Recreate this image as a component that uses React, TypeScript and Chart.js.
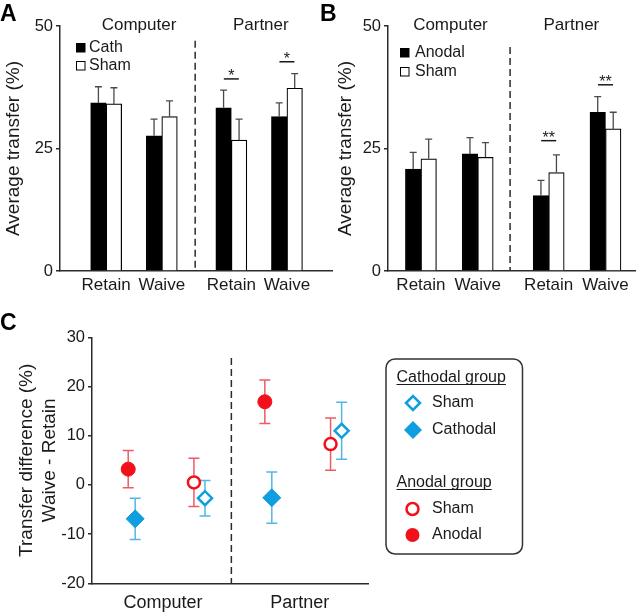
import React, { useEffect, useRef } from 'react';
import { Chart, registerables } from 'chart.js';

Chart.register(...registerables);

const FONT = "'Liberation Sans', Arial, Helvetica, sans-serif";
const TEXT = '#1a1a1a';
const AXIS = '#2b2b2b';

// ---------- Panels A & B (bar charts) ----------
const barCategories = ['Retain', 'Waive', 'Retain', 'Waive'];
const barPositions = [0, 1, 2.25, 3.25];
const conditionLabels = ['Computer', 'Partner'];

const cathMeans = [34.3, 27.6, 33.3, 31.5];
const cathErr = [3.3, 3.4, 3.6, 2.8];
const cathShamMeans = [34.1, 31.5, 26.7, 37.3];
const cathShamErr = [3.3, 3.2, 4.3, 3.0];

const anodMeans = [20.8, 23.9, 15.4, 32.4];
const anodErr = [3.4, 3.3, 3.1, 3.2];
const anodShamMeans = [22.9, 23.2, 20.1, 29.0];
const anodShamErr = [4.0, 3.0, 3.6, 3.4];

const sigA = [
  { at: 2.25, y: 39.2, mark: '*' },
  { at: 3.25, y: 42.7, mark: '*' },
];
const sigB = [
  { at: 2.25, y: 26.6, mark: '**' },
  { at: 3.25, y: 38.0, mark: '**' },
];

// ---------- Panel C (difference plot) ----------
const diffCategories = ['Computer', 'Partner'];
const diffPositions = [1, 2];
const anodalDiff = [3.2, 16.9];
const anodalDiffErr = [3.8, 4.4];
const anodalShamDiff = [0.5, 8.3];
const anodalShamDiffErr = [4.9, 5.3];
const cathodalDiff = [-6.9, -2.6];
const cathodalDiffErr = [4.2, 5.2];
const cathodalShamDiff = [-2.7, 11.0];
const cathodalShamDiffErr = [3.6, 5.8];

const RED = '#f2111b';
const RED_ERR = '#ec5c64';
const BLUE = '#0f9ee0';
const BLUE_ERR = '#52b7e6';

type Series = { label: string; means: number[]; err: number[]; fill: string };

interface BarPanel {
  letter: string;
  series: Series[];
  sig: { at: number; y: number; mark: string }[];
  xMin: number;
  xMax: number;
  divider: number;
  dividerTop: number;
  headerAt: number[];
  yAxisWidth: number;
  padRight: number;
  titlePad: number;
  legend: { dx: number; dy: number; gap: number; textDx: number };
}

function barConfig(p: BarPanel): any {
  const plugin = {
    id: 'decor' + p.letter,
    afterDatasetsDraw(chart: any) {
      const { ctx, chartArea: ca } = chart;
      const x = chart.scales.x;
      const y = chart.scales.y;
      ctx.save();
      // error bars (upper only)
      ctx.strokeStyle = '#4a4a4a';
      ctx.lineWidth = 1.3;
      p.series.forEach((s, di) => {
        const meta = chart.getDatasetMeta(di);
        meta.data.forEach((el: any, i: number) => {
          const bx = el.x;
          const y0 = y.getPixelForValue(s.means[i]);
          const y1 = y.getPixelForValue(s.means[i] + s.err[i]);
          ctx.beginPath();
          ctx.moveTo(bx, y0);
          ctx.lineTo(bx, y1);
          ctx.moveTo(bx - 3.5, y1);
          ctx.lineTo(bx + 3.5, y1);
          ctx.stroke();
        });
      });
      // divider
      ctx.strokeStyle = AXIS;
      ctx.lineWidth = 1.5;
      ctx.setLineDash([7, 4]);
      const dvx = x.getPixelForValue(p.divider);
      ctx.beginPath();
      ctx.moveTo(dvx, y.getPixelForValue(p.dividerTop));
      ctx.lineTo(dvx, y.getPixelForValue(0));
      ctx.stroke();
      ctx.setLineDash([]);
      // significance markers
      ctx.fillStyle = TEXT;
      ctx.strokeStyle = TEXT;
      ctx.lineWidth = 1.5;
      ctx.font = `16px ${FONT}`;
      ctx.textAlign = 'center';
      ctx.textBaseline = 'alphabetic';
      p.sig.forEach((s) => {
        const sx = x.getPixelForValue(s.at);
        const sy = y.getPixelForValue(s.y);
        ctx.beginPath();
        ctx.moveTo(sx - 7.5, sy);
        ctx.lineTo(sx + 7.5, sy);
        ctx.stroke();
        ctx.fillText(s.mark, sx, sy + 2);
      });
      // condition headers
      ctx.font = `17px ${FONT}`;
      ctx.textBaseline = 'middle';
      conditionLabels.forEach((c, i) => {
        ctx.fillText(c, x.getPixelForValue(p.headerAt[i]), ca.top - 1);
      });
      // legend
      ctx.textAlign = 'left';
      ctx.font = `16px ${FONT}`;
      p.series.forEach((s, i) => {
        const lx = ca.left + p.legend.dx;
        const ly = ca.top + p.legend.dy + i * p.legend.gap;
        ctx.fillStyle = s.fill;
        ctx.fillRect(lx, ly, 9, 9);
        ctx.strokeStyle = '#000';
        ctx.lineWidth = 1;
        ctx.strokeRect(lx + 0.5, ly + 0.5, 8.5, 8.5);
        ctx.fillStyle = TEXT;
        ctx.fillText(s.label, lx + p.legend.textDx, ly + 5);
      });
      // panel letter
      ctx.font = `bold 23px ${FONT}`;
      ctx.fillStyle = '#000';
      ctx.textBaseline = 'alphabetic';
      ctx.fillText(p.letter, 0, 21);
      ctx.restore();
    },
  };

  return {
    type: 'bar',
    data: {
      datasets: p.series.map((s) => ({
        label: s.label,
        data: barPositions.map((xv, i) => ({ x: xv, y: s.means[i] })),
        backgroundColor: s.fill,
        borderColor: '#000',
        borderWidth: 1.2,
        barThickness: 15.5,
      })),
    },
    options: {
      responsive: false,
      animation: false,
      layout: { padding: { left: 0, right: p.padRight, top: 26, bottom: 0 } },
      plugins: { legend: { display: false }, tooltip: { enabled: false } },
      scales: {
        x: {
          type: 'linear',
          min: p.xMin,
          max: p.xMax,
          offset: false,
          afterFit: (s: any) => {
            s.height = 29;
          },
          afterBuildTicks: (s: any) => {
            s.ticks = barPositions.map((v) => ({ value: v }));
          },
          grid: { display: true, drawOnChartArea: false, drawTicks: false },
          border: { display: true, color: AXIS, width: 1.5 },
          ticks: {
            autoSkip: false,
            maxRotation: 0,
            padding: 4,
            color: TEXT,
            font: { family: FONT, size: 17 },
            callback: (_v: any, i: number) => barCategories[i],
          },
        },
        y: {
          min: 0,
          max: 50,
          afterFit: (s: any) => {
            s.width = p.yAxisWidth;
          },
          ticks: {
            stepSize: 25,
            padding: 3,
            color: TEXT,
            font: { family: FONT, size: 16.5 },
          },
          grid: {
            drawOnChartArea: false,
            drawTicks: true,
            tickLength: 4,
            color: AXIS,
            lineWidth: 1.5,
          },
          border: { display: true, color: AXIS, width: 1.5 },
          title: {
            display: true,
            text: 'Average transfer (%)',
            color: TEXT,
            font: { family: FONT, size: 19 },
            padding: { top: p.titlePad, bottom: 0 },
          },
        },
      },
    },
    plugins: [plugin],
  };
}

// ---------- Panel C config ----------
const groupOffsets = { anodal: -0.255, cathodal: -0.204, anodalSham: 0.226, cathodalSham: 0.307 };

function diffConfig(): any {
  const sets = [
    { label: 'Cathodal group Sham', vals: cathodalShamDiff, err: cathodalShamDiffErr, off: groupOffsets.cathodalSham, style: 'rectRot', radius: 7, bg: '#fff', border: BLUE, bw: 2.5, errColor: BLUE_ERR },
    { label: 'Anodal group Sham', vals: anodalShamDiff, err: anodalShamDiffErr, off: groupOffsets.anodalSham, style: 'circle', radius: 6, bg: '#fff', border: RED, bw: 2.5, errColor: RED_ERR },
    { label: 'Cathodal', vals: cathodalDiff, err: cathodalDiffErr, off: groupOffsets.cathodal, style: 'rectRot', radius: 9, bg: BLUE, border: BLUE, bw: 1, errColor: BLUE_ERR },
    { label: 'Anodal', vals: anodalDiff, err: anodalDiffErr, off: groupOffsets.anodal, style: 'circle', radius: 7, bg: RED, border: RED, bw: 1, errColor: RED_ERR },
  ];

  const diamond = (ctx: any, cx: number, cy: number, r: number) => {
    ctx.beginPath();
    ctx.moveTo(cx - r, cy);
    ctx.lineTo(cx, cy - r);
    ctx.lineTo(cx + r, cy);
    ctx.lineTo(cx, cy + r);
    ctx.closePath();
  };

  const plugin = {
    id: 'decorC',
    beforeDatasetsDraw(chart: any) {
      const { ctx } = chart;
      const x = chart.scales.x;
      const y = chart.scales.y;
      ctx.save();
      // divider
      ctx.strokeStyle = AXIS;
      ctx.lineWidth = 1.5;
      ctx.setLineDash([7, 4]);
      const dvx = x.getPixelForValue(1.5);
      ctx.beginPath();
      ctx.moveTo(dvx, y.getPixelForValue(25.8));
      ctx.lineTo(dvx, y.getPixelForValue(-20));
      ctx.stroke();
      ctx.setLineDash([]);
      // error bars
      ctx.lineWidth = 1.5;
      sets.forEach((s, di) => {
        const meta = chart.getDatasetMeta(di);
        ctx.strokeStyle = s.errColor;
        meta.data.forEach((el: any, i: number) => {
          const px = el.x;
          const yt = y.getPixelForValue(s.vals[i] + s.err[i]);
          const yb = y.getPixelForValue(s.vals[i] - s.err[i]);
          ctx.beginPath();
          ctx.moveTo(px, yt);
          ctx.lineTo(px, yb);
          ctx.moveTo(px - 5.5, yt);
          ctx.lineTo(px + 5.5, yt);
          ctx.moveTo(px - 5.5, yb);
          ctx.lineTo(px + 5.5, yb);
          ctx.stroke();
        });
      });
      ctx.restore();
    },
    afterDraw(chart: any) {
      const { ctx } = chart;
      ctx.save();
      // panel letter
      ctx.font = `bold 23px ${FONT}`;
      ctx.fillStyle = '#000';
      ctx.textAlign = 'left';
      ctx.textBaseline = 'alphabetic';
      ctx.fillText('C', 0, 30);
      // legend box
      const bx = 386, by = 59, bw = 136.5, bh = 195, r = 9;
      ctx.strokeStyle = '#333';
      ctx.lineWidth = 1.5;
      ctx.beginPath();
      ctx.moveTo(bx + r, by);
      ctx.lineTo(bx + bw - r, by);
      ctx.arcTo(bx + bw, by, bx + bw, by + r, r);
      ctx.lineTo(bx + bw, by + bh - r);
      ctx.arcTo(bx + bw, by + bh, bx + bw - r, by + bh, r);
      ctx.lineTo(bx + r, by + bh);
      ctx.arcTo(bx, by + bh, bx, by + bh - r, r);
      ctx.lineTo(bx, by + r);
      ctx.arcTo(bx, by, bx + r, by, r);
      ctx.closePath();
      ctx.stroke();

      ctx.font = `16px ${FONT}`;
      ctx.fillStyle = TEXT;
      ctx.textBaseline = 'middle';
      const heading = (t: string, ty: number) => {
        ctx.fillStyle = TEXT;
        ctx.fillText(t, 396.5, ty);
        const w = ctx.measureText(t).width;
        ctx.strokeStyle = TEXT;
        ctx.lineWidth = 1;
        ctx.beginPath();
        ctx.moveTo(396.5, ty + 6.5);
        ctx.lineTo(396.5 + w, ty + 6.5);
        ctx.stroke();
      };
      heading('Cathodal group', 78);
      heading('Anodal group', 183);

      // Cathodal sham (open diamond)
      ctx.strokeStyle = BLUE;
      ctx.fillStyle = '#fff';
      ctx.lineWidth = 2.5;
      diamond(ctx, 413, 103, 7);
      ctx.fill();
      ctx.stroke();
      // Cathodal (filled diamond)
      ctx.fillStyle = BLUE;
      diamond(ctx, 413, 130, 9);
      ctx.fill();
      // Anodal sham (open circle)
      ctx.strokeStyle = RED;
      ctx.fillStyle = '#fff';
      ctx.beginPath();
      ctx.arc(412.5, 209, 6, 0, Math.PI * 2);
      ctx.fill();
      ctx.stroke();
      // Anodal (filled circle)
      ctx.fillStyle = RED;
      ctx.beginPath();
      ctx.arc(412.5, 235, 7, 0, Math.PI * 2);
      ctx.fill();

      ctx.fillStyle = TEXT;
      ctx.fillText('Sham', 432, 103);
      ctx.fillText('Cathodal', 432, 130);
      ctx.fillText('Sham', 432, 209);
      ctx.fillText('Anodal', 432, 235);
      ctx.restore();
    },
  };

  return {
    type: 'scatter',
    data: {
      datasets: sets.map((s) => ({
        label: s.label,
        data: diffPositions.map((p, i) => ({ x: p + s.off, y: s.vals[i] })),
        pointStyle: s.style,
        pointRadius: s.radius,
        pointBackgroundColor: s.bg,
        pointBorderColor: s.border,
        pointBorderWidth: s.bw,
        showLine: false,
      })),
    },
    options: {
      responsive: false,
      animation: false,
      layout: { padding: { left: 0, right: 272, top: 37.3, bottom: 0 } },
      plugins: { legend: { display: false }, tooltip: { enabled: false } },
      scales: {
        x: {
          type: 'linear',
          min: 0.48,
          max: 2.5,
          afterFit: (s: any) => {
            s.height = 30.7;
          },
          afterBuildTicks: (s: any) => {
            s.ticks = diffPositions.map((v) => ({ value: v }));
          },
          grid: { display: true, drawOnChartArea: false, drawTicks: false },
          border: { display: true, color: AXIS, width: 1.5 },
          ticks: {
            autoSkip: false,
            maxRotation: 0,
            padding: 9,
            color: TEXT,
            font: { family: FONT, size: 18 },
            callback: (_v: any, i: number) => diffCategories[i],
          },
        },
        y: {
          min: -20,
          max: 30,
          afterFit: (s: any) => {
            s.width = 92;
          },
          ticks: {
            stepSize: 10,
            padding: 3,
            color: TEXT,
            font: { family: FONT, size: 16.5 },
          },
          grid: {
            drawOnChartArea: false,
            drawTicks: true,
            tickLength: 4,
            color: AXIS,
            lineWidth: 1.5,
          },
          border: { display: true, color: AXIS, width: 1.5 },
          title: {
            display: true,
            text: ['Transfer difference (%)', 'Waive - Retain'],
            color: TEXT,
            font: { family: FONT, size: 19 },
            padding: { top: 15.6, bottom: 0 },
          },
        },
      },
    },
    plugins: [plugin],
  };
}

export default function App() {
  const refA = useRef<HTMLCanvasElement>(null);
  const refB = useRef<HTMLCanvasElement>(null);
  const refC = useRef<HTMLCanvasElement>(null);

  useEffect(() => {
    const a = new Chart(
      refA.current as HTMLCanvasElement,
      barConfig({
        letter: 'A',
        series: [
          { label: 'Cath', means: cathMeans, err: cathErr, fill: '#000' },
          { label: 'Sham', means: cathShamMeans, err: cathShamErr, fill: '#fff' },
        ],
        sig: sigA,
        xMin: -0.83,
        xMax: 4.06,
        divider: 1.6,
        dividerTop: 47,
        headerAt: [0.59, 2.78],
        yAxisWidth: 60,
        padRight: 8,
        titlePad: 2.6,
        legend: { dx: 16, dy: 17, gap: 18, textDx: 13 },
      })
    );
    const b = new Chart(
      refB.current as HTMLCanvasElement,
      barConfig({
        letter: 'B',
        series: [
          { label: 'Anodal', means: anodMeans, err: anodErr, fill: '#000' },
          { label: 'Sham', means: anodShamMeans, err: anodShamErr, fill: '#fff' },
        ],
        sig: sigB,
        xMin: -0.58,
        xMax: 3.77,
        divider: 1.57,
        dividerTop: 45.7,
        headerAt: [0.52, 2.65],
        yAxisWidth: 68,
        padRight: 5,
        titlePad: 14,
        legend: { dx: 12, dy: 22, gap: 19, textDx: 15 },
      })
    );
    const c = new Chart(refC.current as HTMLCanvasElement, diffConfig());
    return () => {
      a.destroy();
      b.destroy();
      c.destroy();
    };
  }, []);

  return (
    <div style={{ position: 'absolute', left: 0, top: 0, width: 640, height: 614, background: '#fff', overflow: 'hidden' }}>
      <canvas ref={refA} width={340} height={300} style={{ position: 'absolute', left: 0, top: 0 }} />
      <canvas ref={refB} width={320} height={300} style={{ position: 'absolute', left: 320, top: 0 }} />
      <canvas ref={refC} width={640} height={314} style={{ position: 'absolute', left: 0, top: 300 }} />
    </div>
  );
}
